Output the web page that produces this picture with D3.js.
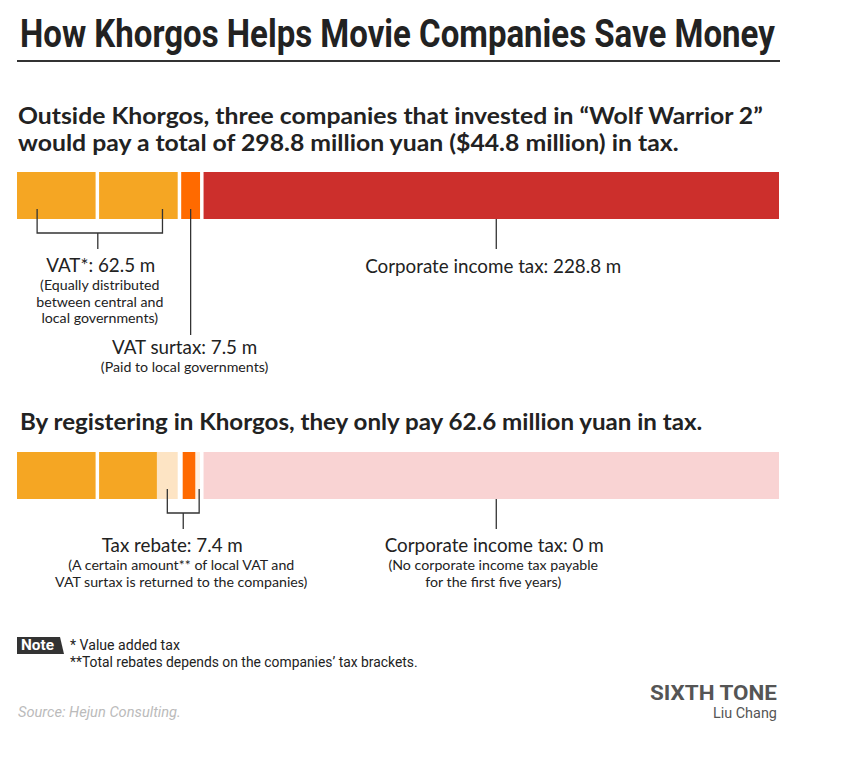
<!DOCTYPE html>
<html>
<head>
<meta charset="utf-8">
<script src="https://cdn.jsdelivr.net/npm/d3@7"></script>
<style>
  html, body { margin: 0; padding: 0; background: #fff; }
  svg { display: block; }
</style>
</head>
<body>
<svg id="chart" width="857" height="760"></svg>
<script>
// ---------- DATA ----------
const groups = ["VAT (central)", "VAT (local)", "VAT surtax", "Corporate income tax"];
const outsidePaid = [31.25, 31.25, 7.5, 228.8];     // million yuan, outside Khorgos
const khorgosPaid = [31.25, 23.0, 5.6, 0];          // million yuan, paid in Khorgos
const khorgosRebate = [0, 8.25, 1.9, 0];            // rebated portion
const khorgosExempt = [0, 0, 0, 228.8];             // exempted corporate income tax
const totalOutside = 298.8;

const title = "How Khorgos Helps Movie Companies Save Money";
const subtitle1 = ["Outside Khorgos, three companies that invested in \u201cWolf Warrior 2\u201d",
                   "would pay a total of 298.8 million yuan ($44.8 million) in tax."];
const subtitle2 = "By registering in Khorgos, they only pay 62.6 million yuan in tax.";
const vatLabel = ["VAT*: 62.5 m", "(Equally distributed", "between central and", "local governments)"];
const surtaxLabel = ["VAT surtax: 7.5 m", "(Paid to local governments)"];
const citLabel1 = ["Corporate income tax: 228.8 m"];
const rebateLabel = ["Tax rebate: 7.4 m", "(A certain amount** of local VAT and", "VAT surtax is returned to the companies)"];
const citLabel2 = ["Corporate income tax: 0 m", "(No corporate income tax payable", "for the first five years)"];
const notes = ["* Value added tax", "**Total rebates depends on the companies\u2019 tax brackets."];

// ---------- STYLE ----------
const colors = {
  paid: ["#f5a623", "#f5a623", "#ff6a00", "#cc2f2c"],
  rebate: ["#fde4c4", "#fde4c4", "#fff0e1", "#fde4c4"],
  exempt: "#f9d3d3"
};
const gap = 3.5;
const left = 17, right = 779;

const svg = d3.select("#chart");
svg.append("rect").attr("width", 857).attr("height", 760).attr("fill", "#fff");

const x = d3.scaleLinear().domain([0, totalOutside]).range([left, right - gap * (groups.length - 1)]);

const starts = [];
let acc = 0;
outsidePaid.forEach((v) => { starts.push(acc); acc += v; });
const gx = (i, v) => x(starts[i] + v) + i * gap;

// text fitted horizontally to a width via a transform (keeps natural glyph metrics)
function fitText(px, py, width, txt, family, size, weight, fill, style) {
  const t = svg.append("text").attr("x", 0).attr("y", 0)
    .attr("font-family", family).attr("font-size", size).attr("font-weight", weight || 400)
    .attr("font-style", style || "normal").attr("fill", fill).text(txt);
  const w = t.node().getComputedTextLength();
  t.attr("transform", `translate(${px},${py}) scale(${width / w},1)`);
  return t;
}

// ---------- TITLE ----------
fitText(20, 47, 755, title, "Roboto, sans-serif", 38, 700, "#222");
svg.append("line").attr("x1", 17).attr("x2", 780).attr("y1", 61).attr("y2", 61)
  .attr("stroke", "#333").attr("stroke-width", 2);

function lato(sel, size, weight) {
  return sel.attr("font-family", "Lato, sans-serif").attr("font-size", size).attr("font-weight", weight).attr("fill", "#222");
}

fitText(18, 124, 745, subtitle1[0], "Lato, sans-serif", 23.5, 700, "#222");
fitText(18, 151, 661, subtitle1[1], "Lato, sans-serif", 23.5, 700, "#222");
fitText(20, 430, 683, subtitle2, "Lato, sans-serif", 23.5, 700, "#222");

// ---------- BARS ----------
const topY = 172, botY = 452, barH = 47;

svg.append("g").selectAll("rect").data(outsidePaid).join("rect")
  .attr("x", (d, i) => gx(i, 0))
  .attr("width", (d, i) => gx(i, d) - gx(i, 0))
  .attr("y", topY).attr("height", barH)
  .attr("fill", (d, i) => colors.paid[i]);

const parts = [];
groups.forEach((g, i) => {
  let o = 0;
  [["paid", khorgosPaid[i]], ["rebate", khorgosRebate[i]], ["exempt", khorgosExempt[i]]].forEach(([k, v]) => {
    if (v > 0) parts.push({ i, k, o, v });
    o += v;
  });
});
svg.append("g").selectAll("rect").data(parts).join("rect")
  .attr("x", d => gx(d.i, d.o) + (d.i === 2 && d.k === "paid" ? 1.5 : 0))
  .attr("width", d => gx(d.i, d.o + d.v) - gx(d.i, d.o))
  .attr("y", botY).attr("height", barH)
  .attr("fill", d => d.k === "paid" ? colors.paid[d.i] : d.k === "rebate" ? colors.rebate[d.i] : colors.exempt);

// ---------- ANNOTATIONS ----------
const ink = "#333";
function path(d) {
  svg.append("path").attr("d", d).attr("fill", "none").attr("stroke", ink).attr("stroke-width", 1.3);
}
const mainSize = 18.8, subSize = 14.2;
function labelBlock(cx, y0, lines, lh, subCx) {
  lines.forEach((t, k) => {
    const s = k === 0 ? mainSize : subSize;
    const y = k === 0 ? y0 : y0 + 18 + (k - 1) * lh;
    lato(svg.append("text").attr("x", k === 0 ? cx : (subCx ?? cx)).attr("y", y), s, 400)
      .attr("text-anchor", "middle").text(t);
  });
}

// VAT bracket
const bL = gx(0, 8), bR = gx(1, 25.2);
const bMid = (bL + bR) / 2 - 2;
path(`M${bL},209 V233 H${bR} V209`);
path(`M${bMid},233 V249`);
labelBlock(bMid + 3, 272, vatLabel, 16.5, bMid + 2);

// Surtax line
const sC = gx(2, outsidePaid[2] / 2);
path(`M${sC},209 V335`);
labelBlock(sC - 6, 354, surtaxLabel, 16.5);

// CIT top
const cC = gx(3, outsidePaid[3] / 2) + 5;
path(`M${cC},${topY + barH} V249`);
labelBlock(cC - 3, 273, citLabel1, 16.5);

// Rebate bracket (centres of the rebate pieces)
const r1 = gx(1, khorgosPaid[1] + khorgosRebate[1] / 2);
const r2 = gx(2, khorgosPaid[2] + khorgosRebate[2] / 2) + 1.5;
const rMid = (r1 + r2) / 2;
path(`M${r1},489 V513 H${r2} V489`);
path(`M${rMid},513 V529`);
labelBlock(rMid - 11, 552, rebateLabel, 16.5, rMid - 2);

// CIT bottom
path(`M${cC},${botY + barH} V529`);
labelBlock(cC - 2, 552, citLabel2, 16.5, cC - 3);

// ---------- NOTES ----------
svg.append("path").attr("d", "M17,637 H60 L64,654 H17 Z").attr("fill", "#333");
fitText(21, 650, 33, "Note", "Roboto, sans-serif", 14, 700, "#fff");
fitText(70, 650, 110, notes[0], "Roboto, sans-serif", 14, 400, "#222");
fitText(70, 667, 348, notes[1], "Roboto, sans-serif", 14, 400, "#222");

fitText(650, 700, 127, "SIXTH TONE", "Roboto, sans-serif", 20, 700, "#555");
fitText(713, 718, 64, "Liu Chang", "Roboto, sans-serif", 14, 400, "#555");
fitText(18, 717, 163, "Source: Hejun Consulting.", "Roboto, sans-serif", 14, 400, "#bbb", "italic");
</script>
</body>
</html>
